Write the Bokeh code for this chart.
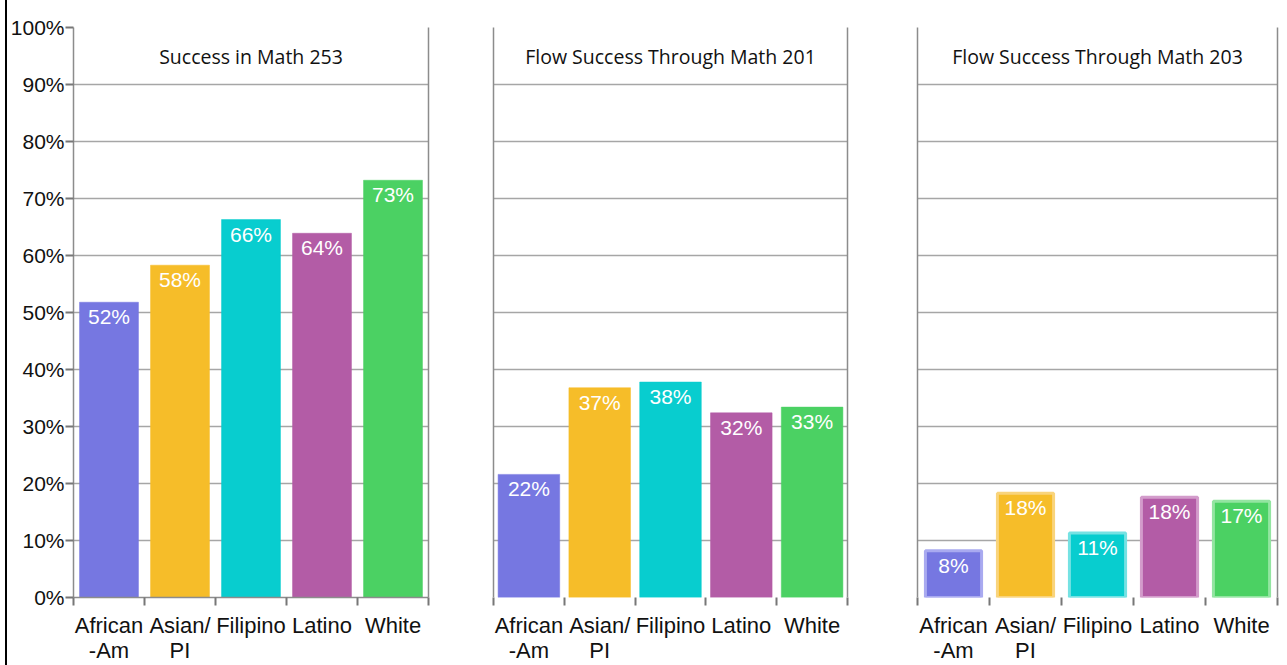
from bokeh.plotting import figure
from bokeh.models import FixedTicker, LinearAxis, Range1d, ColumnDataSource, Div
from bokeh.layouts import row
from bokeh.core.properties import value
from bokeh.embed import file_html
from bokeh.resources import INLINE

categories = ["African\n-Am", "Asian/\nPI", "Filipino", "Latino", "White"]
titles = ["Success in Math 253", "Flow Success Through Math 201", "Flow Success Through Math 203"]
math253 = [51.8, 58.3, 66.3, 63.9, 73.2]
flow201 = [21.6, 36.8, 37.8, 32.4, 33.4]
flow203 = [8.2, 18.3, 11.3, 17.6, 16.9]
colors = ["#7677E1", "#F6BD29", "#08CDCF", "#B35CA6", "#4BD163"]
light_colors = ["#A9AAF0", "#F9D47C", "#76E2E3", "#D39CCB", "#93E5A1"]
yticks = list(range(0, 101, 10))

GRID = "#a6a6a6"
FRAME = "#8c8c8c"
H = 665


def panel(title, vals, width, left, right, bottom, bar_w, show_y,
          bordered=False, base_line=False):
    p = figure(width=width, height=H, x_range=Range1d(0, 5), y_range=Range1d(0, 100),
               output_backend="svg", toolbar_location=None,
               min_border_left=left, min_border_right=right, min_border_top=27,
               min_border_bottom=bottom)
    p.outline_line_color = None
    p.background_fill_color = "white"
    p.border_fill_color = "white"
    n = len(vals)
    src = ColumnDataSource(dict(
        x=[i + 0.5 for i in range(n)], top=vals, color=colors[:n],
        lc=light_colors[:n] if bordered else colors[:n],
        label=[f"{round(v)}%" for v in vals]))
    p.vbar(x="x", top="top", bottom=0, width=bar_w, fill_color="color",
           line_color="lc", line_width=3 if bordered else 0.5, source=src)
    p.text(x="x", y="top", text="label", source=src, text_color="white",
           text_font=value("Liberation Sans"), text_font_size="21px",
           text_align="center", text_baseline="top", y_offset=3)
    p.text(x=[2.5], y=[95], text=[title], text_font=value("Open Sans"),
           text_font_size="19.5px", text_color="#111111",
           text_align="center", text_baseline="middle")

    xa = p.xaxis[0]
    xa.ticker = FixedTicker(ticks=[i + 0.5 for i in range(n)], minor_ticks=list(range(n + 1)))
    xa.major_label_overrides = {i + 0.5: c for i, c in enumerate(categories)}
    xa.major_tick_in = 0
    xa.major_tick_out = 0
    xa.major_tick_line_color = None
    xa.minor_tick_in = 0
    xa.minor_tick_out = 8
    xa.minor_tick_line_color = "#777777"
    xa.minor_tick_line_width = 2
    xa.major_label_standoff = 7
    xa.major_label_text_font = "Liberation Sans"
    xa.major_label_text_font_size = "22px"
    xa.major_label_text_line_height = 1.0
    xa.major_label_text_color = "#111111"
    xa.axis_line_color = FRAME if base_line else None
    xa.axis_line_width = 1.5
    p.xgrid.grid_line_color = None

    ya = p.yaxis[0]
    p.ygrid.ticker = FixedTicker(ticks=yticks)
    p.ygrid.grid_line_color = GRID
    p.ygrid.grid_line_width = 1.3
    ya.axis_line_color = FRAME
    ya.axis_line_width = 1.5
    if show_y:
        ya.ticker = FixedTicker(ticks=yticks)
        ya.major_label_overrides = {t: f"{t}%" for t in yticks}
        ya.major_tick_in = 0
        ya.major_tick_out = 8
        ya.major_tick_line_color = "#777777"
        ya.major_tick_line_width = 2
        ya.major_label_standoff = 1
        ya.major_label_text_font = "Liberation Sans"
        ya.major_label_text_font_size = "21px"
        ya.major_label_text_color = "#111111"
    else:
        ya.ticker = FixedTicker(ticks=[])
        ya.major_tick_out = 0
        ya.major_tick_in = 0
    ya.minor_tick_line_color = None
    ra = LinearAxis(ticker=FixedTicker(ticks=[]), axis_line_color=FRAME, axis_line_width=1.5,
                    major_tick_out=0, major_tick_in=0, minor_tick_line_color=None)
    p.add_layout(ra, "right")
    return p


p1 = panel(titles[0], math253, 448, 65, 27, 67, 0.83, True, base_line=True)
p2 = panel(titles[1], flow201, 425, 38, 33, 64, 0.87, False)
p3 = panel(titles[2], flow203, 405, 37, 8, 68, 0.78, False, bordered=True)

edge = Div(text="", width=2, height=H, margin=(0, 0, 0, 5),
           styles={"background-color": "#000000"})

layout = row(edge, p1, p2, p3)

open("out.html", "w").write(file_html(layout, INLINE))
